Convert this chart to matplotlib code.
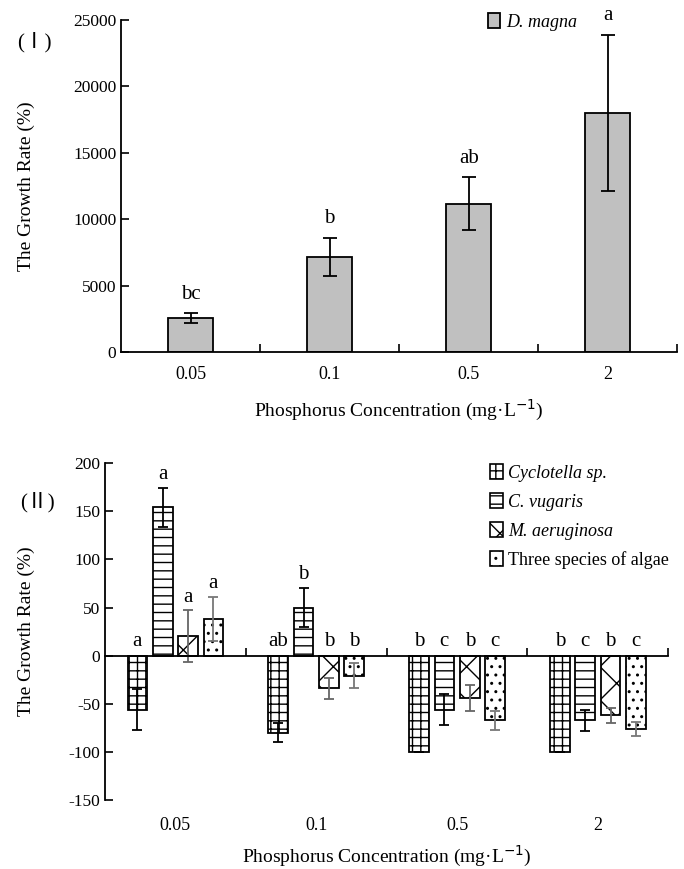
import matplotlib.pyplot as plt
import matplotlib.transforms as mtransforms
from matplotlib.patches import Patch
import numpy as np

plt.rcParams['font.family'] = ['Liberation Serif', 'DejaVu Serif']
plt.rcParams['hatch.linewidth'] = 1.0
plt.rcParams['axes.unicode_minus'] = False

# data
conc = ['0.05', '0.1', '0.5', '2']

dm_rate = [2550, 7150, 11150, 18000]
dm_err = [350, 1450, 2000, 5900]
dm_sig = ['bc', 'b', 'ab', 'a']

algae = ['Cyclotella sp.', 'C. vugaris', 'M. aeruginosa', 'Three species of algae']
cyc_rate = [-56, -80, -100, -100]
cyc_err = [21, 10, 0, 0]
vug_rate = [154, 50, -56, -67]
vug_err = [20, 20, 16, 11]
aer_rate = [20, -34, -44, -62]
aer_err = [27, 11, 13, 8]
three_rate = [38, -21, -67, -76]
three_err = [23, 13, 10, 7]
cyc_sig = ['a', 'ab', 'b', 'b']
vug_sig = ['a', 'b', 'c', 'c']
aer_sig = ['a', 'b', 'b', 'b']
three_sig = ['a', 'b', 'c', 'c']

fig = plt.figure(figsize=(6.84, 8.69), dpi=100)
x = np.arange(len(conc))

# ---------- panel I ----------
ax1 = fig.add_axes([0.177, 0.595, 0.813, 0.382])
ax1.bar(x, dm_rate, width=0.32, color='#c0c0c0', edgecolor='black', linewidth=1.3,
        yerr=dm_err, error_kw=dict(ecolor='black', elinewidth=1.3, capsize=5, capthick=1.3))
for i in range(len(conc)):
    ax1.text(x[i], dm_rate[i] + dm_err[i] + 700, dm_sig[i], ha='center', va='bottom', fontsize=15)
ax1.set_xlim(-0.5, 3.5)
ax1.set_ylim(0, 25000)
ax1.set_yticks(range(0, 25001, 5000))
ax1.set_xticks(x + 0.5)
ax1.set_xticklabels([])
ax1.set_xticks(x, minor=True)
ax1.set_xticklabels(conc, minor=True, fontsize=13)
ax1.tick_params(axis='x', which='major', direction='in', length=6, width=1.2)
ax1.tick_params(axis='x', which='minor', length=0, pad=10)
ax1.tick_params(axis='y', direction='in', length=6, width=1.2, labelsize=12.5)
for s in ['top', 'right']:
    ax1.spines[s].set_visible(False)
for s in ['left', 'bottom']:
    ax1.spines[s].set_linewidth(1.3)
ax1.set_ylabel('The Growth Rate (%)', fontsize=14)
ax1.yaxis.set_label_coords(-0.155, 0.5)
ax1.set_xlabel('Phosphorus Concentration (mg·L$^{-1}$)', fontsize=14)
ax1.xaxis.set_label_coords(0.5, -0.14)
leg1 = ax1.legend([Patch(facecolor='#c0c0c0', edgecolor='black', linewidth=1.3)], ['D. magna'],
                  loc='upper left', bbox_to_anchor=(0.63, 1.07), frameon=False, fontsize=13,
                  handlelength=0.7, handleheight=0.9, handletextpad=0.3)
leg1.get_texts()[0].set_style('italic')
fig.text(0.025, 0.945, '(Ⅰ)', fontsize=15, family=['Liberation Serif', 'Noto Sans CJK SC'])

# ---------- panel II ----------
ax2 = fig.add_axes([0.1535, 0.0794, 0.8235, 0.3876])
series = [cyc_rate, vug_rate, aer_rate, three_rate]
errs = [cyc_err, vug_err, aer_err, three_err]
sigs = [cyc_sig, vug_sig, aer_sig, three_sig]
hatches = ['++', '--', 'x', '..']
ecols = ['black', 'black', '#666666', '#777777']
offsets = [-1.5, -0.5, 0.5, 1.5]
for k in range(4):
    xs = x + offsets[k] * 0.18
    ax2.bar(xs, series[k], width=0.14, color='white', edgecolor='black', linewidth=1.3,
            hatch=hatches[k], yerr=errs[k],
            error_kw=dict(ecolor=ecols[k], elinewidth=1.3, capsize=3.5, capthick=1.3))
    for i in range(len(conc)):
        v = series[k][i]
        ytxt = v + errs[k][i] + 4 if v > 0 else 5
        ax2.text(xs[i], ytxt, sigs[k][i], ha='center', va='bottom', fontsize=15)

ax2.set_xlim(-0.5, 3.5)
ax2.set_ylim(-150, 200)
ax2.set_yticks(range(-150, 201, 50))
ax2.spines['bottom'].set_position(('data', 0))
ax2.set_xticks(x + 0.5)
ax2.set_xticklabels([])
ax2.tick_params(axis='x', direction='in', length=6, width=1.2)
ax2.tick_params(axis='y', direction='in', length=6, width=1.2, labelsize=12.5)
for s in ['top', 'right']:
    ax2.spines[s].set_visible(False)
for s in ['left', 'bottom']:
    ax2.spines[s].set_linewidth(1.3)
trans = mtransforms.blended_transform_factory(ax2.transData, ax2.transAxes)
for i in range(len(conc)):
    ax2.text(x[i], -0.05, conc[i], transform=trans, ha='center', va='top', fontsize=13)
ax2.set_ylabel('The Growth Rate (%)', fontsize=14)
ax2.yaxis.set_label_coords(-0.125, 0.5)
ax2.set_xlabel('Phosphorus Concentration (mg·L$^{-1}$)', fontsize=14)
ax2.xaxis.set_label_coords(0.5, -0.13)

handles = [Patch(facecolor='white', edgecolor='black', hatch=h, linewidth=1.2) for h in hatches]
leg2 = ax2.legend(handles, algae, loc='upper left', bbox_to_anchor=(0.655, 1.045), frameon=False,
                  fontsize=13, handlelength=0.7, handleheight=0.9, handletextpad=0.3, labelspacing=0.62)
for t in leg2.get_texts()[:3]:
    t.set_style('italic')
fig.text(0.03, 0.416, '(Ⅱ)', fontsize=15, family=['Liberation Serif', 'Noto Sans CJK SC'])

fig.savefig('out.png', dpi=100)
